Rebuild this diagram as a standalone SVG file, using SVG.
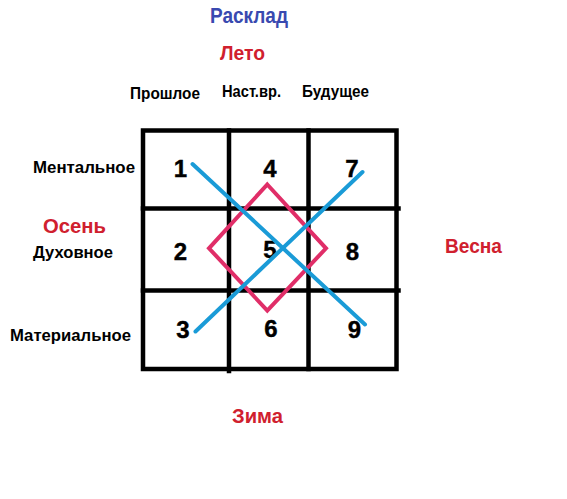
<svg xmlns="http://www.w3.org/2000/svg" width="567" height="499" viewBox="0 0 567 499">
<style>
.t{font-family:"Liberation Sans",Arial,sans-serif;font-weight:bold}
.lbl{font-size:17px;fill:#000}
.red{font-size:21px;fill:#d0202e}
.blue{font-size:22.5px;fill:#3949b0}
.num{font-size:24px;fill:#000;text-anchor:middle;stroke:#000;stroke-width:0.4}
.grid{stroke:#000;stroke-width:4.5;fill:none;stroke-linecap:square}
.diag{stroke:#1a9bd7;stroke-width:4;stroke-linecap:round;fill:none}
.dia{stroke:#e02e68;stroke-width:4;fill:none;stroke-linejoin:miter}
</style>
<rect width="567" height="499" fill="#fff"/>
<g id="labels">
<text class="t blue" x="210" y="23" textLength="78" lengthAdjust="spacingAndGlyphs">Расклад</text>
<text class="t red" x="220" y="60" textLength="45" lengthAdjust="spacingAndGlyphs">Лето</text>
<text class="t lbl" x="130" y="99" textLength="70" lengthAdjust="spacingAndGlyphs">Прошлое</text>
<text class="t lbl" x="222" y="97" textLength="59" lengthAdjust="spacingAndGlyphs">Наст.вр.</text>
<text class="t lbl" x="302" y="97" textLength="67" lengthAdjust="spacingAndGlyphs">Будущее</text>
<text class="t lbl" x="33" y="173" textLength="102" lengthAdjust="spacingAndGlyphs">Ментальное</text>
<text class="t red" x="43" y="233" textLength="63" lengthAdjust="spacingAndGlyphs">Осень</text>
<text class="t lbl" x="33" y="258" textLength="80" lengthAdjust="spacingAndGlyphs">Духовное</text>
<text class="t lbl" x="10" y="341" textLength="121" lengthAdjust="spacingAndGlyphs">Материальное</text>
<text class="t red" x="445" y="253" textLength="57" lengthAdjust="spacingAndGlyphs">Весна</text>
<text class="t red" x="232" y="423" textLength="51" lengthAdjust="spacingAndGlyphs">Зима</text>
</g>
<g id="grid" class="grid">
<rect x="143" y="130.5" width="253.5" height="238.5"/>
<line x1="229" y1="130.5" x2="229" y2="371"/>
<line x1="308.5" y1="130.5" x2="308.5" y2="369"/>
<line x1="143" y1="208.5" x2="398.5" y2="208.5"/>
<line x1="143" y1="290.5" x2="398.5" y2="290.5"/>
</g>
<g id="n1"><text class="t num" x="180.5" y="177">1</text></g>
<g id="n4"><text class="t num" x="270" y="177">4</text></g>
<g id="n7"><text class="t num" x="352" y="177">7</text></g>
<g id="n2"><text class="t num" x="180.5" y="260">2</text></g>
<g id="n5"><text class="t num" x="270" y="258">5</text></g>
<g id="n8"><text class="t num" x="352.5" y="260">8</text></g>
<g id="n3"><text class="t num" x="183" y="338">3</text></g>
<g id="n6"><text class="t num" x="271" y="337">6</text></g>
<g id="n9"><text class="t num" x="354.5" y="338">9</text></g>
<g id="connectors">
<polygon class="dia" points="267.3,184.5 326,248.3 267.3,310.5 209,248.3"/>
<line class="diag" x1="192.5" y1="164" x2="365" y2="324.5"/>
<line class="diag" x1="195.5" y1="331.5" x2="362.5" y2="172"/>
</g>
</svg>
